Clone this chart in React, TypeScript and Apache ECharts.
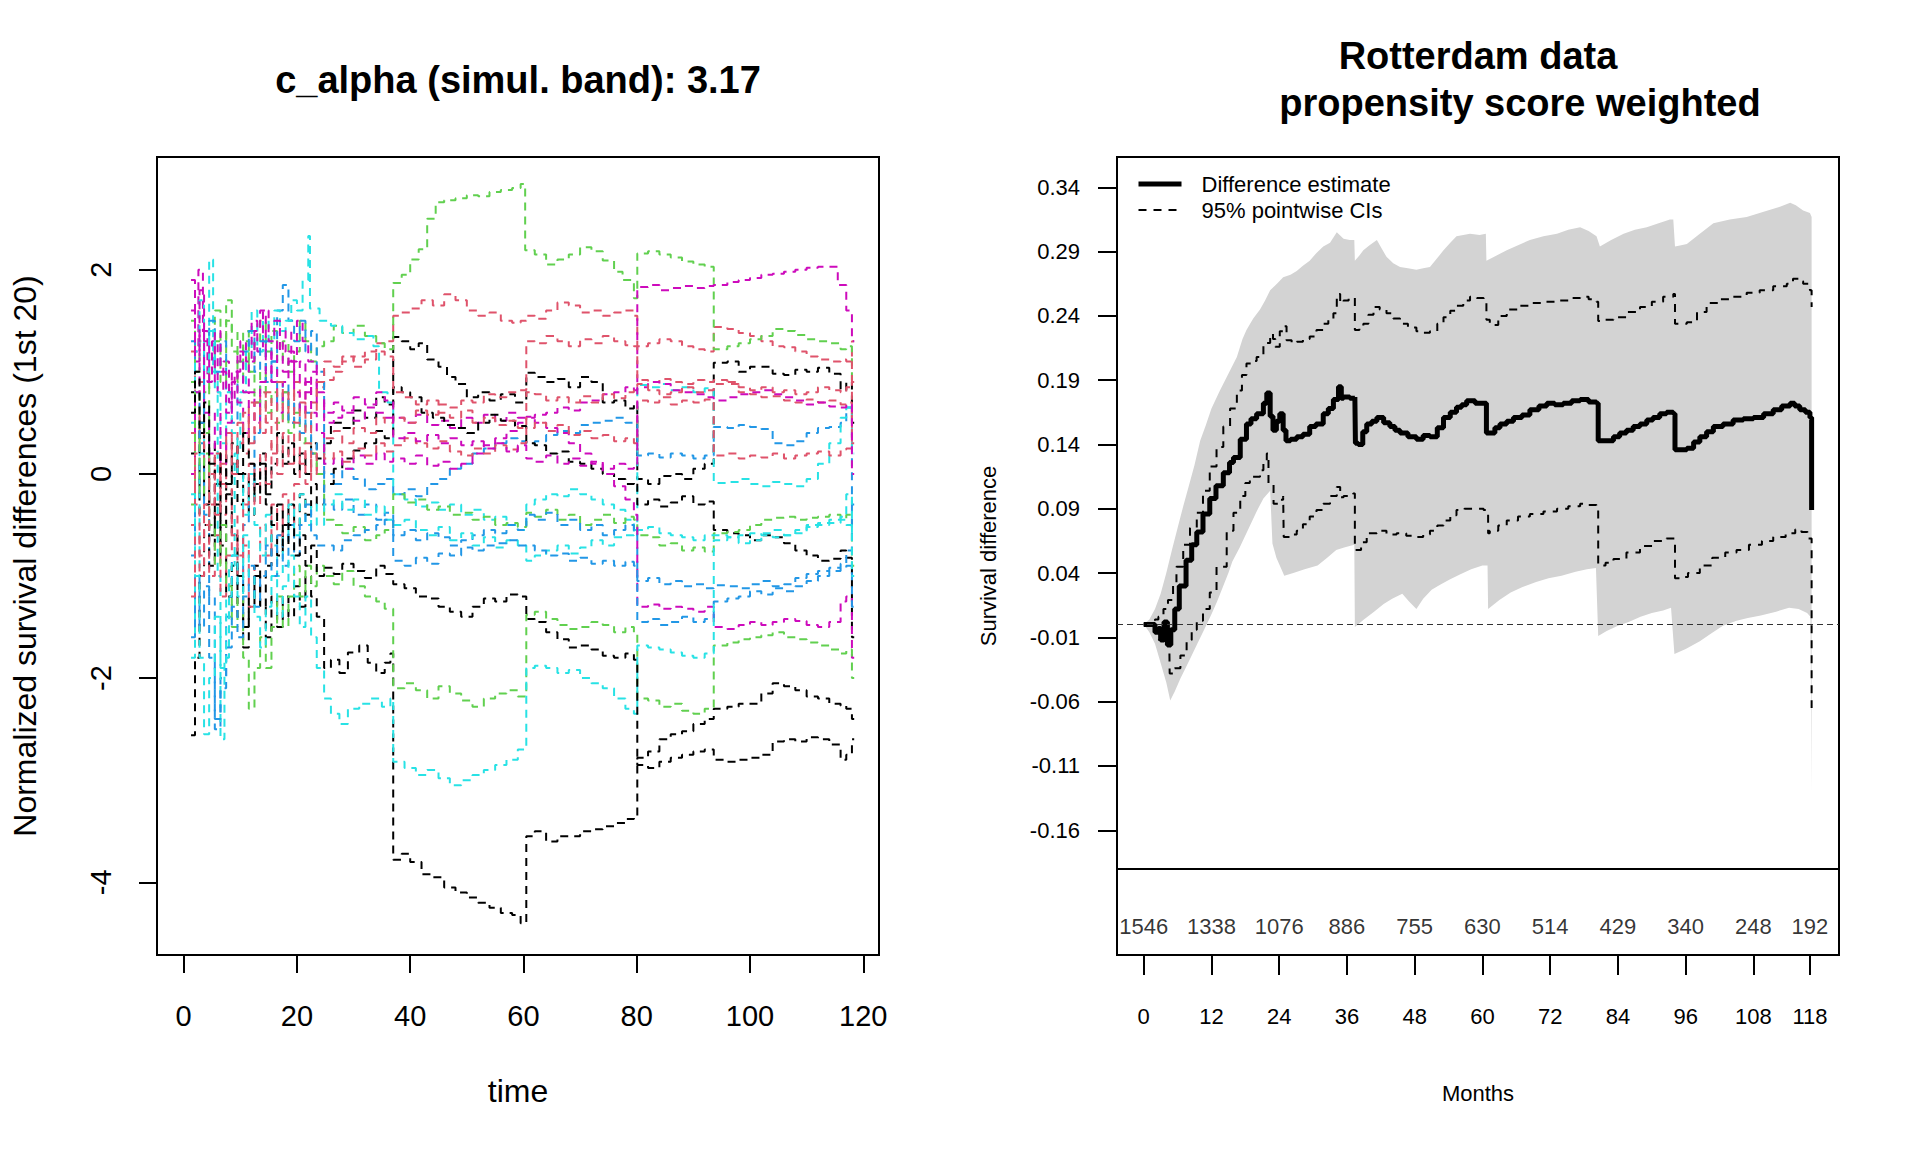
import React, { useEffect, useRef } from 'react';
import * as echarts from 'echarts';

const FONT = '"Liberation Sans", Arial, Helvetica, sans-serif';

// ---------- texts ----------
const LEFT_TITLE = 'c_alpha (simul. band): 3.17';
const RIGHT_TITLE_1 = 'Rotterdam data';
const RIGHT_TITLE_2 = 'propensity score weighted';
const LEFT_X_NAME = 'time';
const LEFT_Y_NAME = 'Normalized survival differences (1st 20)';
const RIGHT_X_NAME = 'Months';
const RIGHT_Y_NAME = 'Survival difference';
const EST_NAME = 'Difference estimate';
const CI_NAME = '95% pointwise CIs';

// ---------- ticks / categories ----------
const rPalette = ['#000000', '#DF536B', '#61D04F', '#2297E6', '#28E2E5', '#CD0BBC'];
const timeTicks = [0, 20, 40, 60, 80, 100, 120];
const normTicks = [-4, -2, 0, 2];
const monthTicks = [0, 12, 24, 36, 48, 60, 72, 84, 96, 108, 118];
const atRisk = [1546, 1338, 1076, 886, 755, 630, 514, 429, 340, 248, 192];
const diffTicks = [0.34, 0.29, 0.24, 0.19, 0.14, 0.09, 0.04, -0.01, -0.06, -0.11, -0.16];

// ---------- left panel: 20 simulated normalized processes [time, value] ----------
const sim01 = [[1.3,0.2],[2,-0.4],[2.8,0.1],[3.6,-0.3],[4.5,0.3],[5.5,-0.1],[6.5,0.2],[7.5,-0.2],[8.5,0.1],[9.5,-0.3],[10.5,0.0],[11.5,-0.4],[12.5,-0.1],[13.5,0.2],[14.5,-0.2],[15.5,0.1],[16.5,0.4],[17.5,0.1],[18.5,0.3],[19.5,0.0],[20.5,0.2],[21.5,0.0],[22.5,0.3],[23.5,0.15],
  [24.8,0.3],[26,0.5],[28,0.45],[30,0.62],[32,0.55],[34,0.75],[35.5,0.68],
  [37,1.34],[38.5,1.3],[40,1.22],[41.5,1.28],[43,1.12],[45,1.05],[46.5,0.95],[48,0.88],[50,0.75],[52,0.8],[54,0.72],[56,0.78],[58.5,0.7],
  [60.5,0.99],[62,0.95],[64,0.9],[66,0.93],[68,0.85],[70,0.95],[72,0.9],[74,0.7],[76,0.72],[78,0.64],[79.5,0.68],
  [80.1,-0.05],[82,-0.1],[84,-0.02],[86,0.0],[88,-0.05],[90,0.05],[92,0.1],
  [93.6,1.09],[96,1.1],[98,1.0],[100,1.05],[102,1.05],[104,0.98],[106,0.97],[108,1.02],[110,1.0],[112,1.04],[114,0.98],[116,0.82],[117,0.9],
  [118,0.5],[118.4,0.5]];
const sim02 = [[1.3,1.2],[2,0.6],[2.8,0.9],[3.6,0.2],[4.5,-0.3],[5.5,0.2],[6.5,-0.1],[7.5,0.4],[8.5,0.1],[9.5,0.5],[10.5,0.2],[11.5,0.7],[12.5,0.4],[13.5,0.8],[14.5,0.5],[15.5,0.2],[16.5,0.5],[17.5,0.8],[18.5,0.5],[19.5,0.9],[20.5,0.6],[21.5,0.9],[22.5,0.7],[23.5,0.85],
  [24.8,0.92],[26.5,1.0],[28,1.1],[30,1.15],[32,1.2],[34,1.28],[35.5,1.3],
  [37,1.55],[38.5,1.58],[40,1.62],[42,1.7],[44,1.65],[46,1.76],[48,1.7],[50,1.6],[52,1.55],[54,1.58],[56,1.5],[58,1.48],[59.5,1.5],
  [60.5,1.55],[62,1.52],[64,1.6],[66,1.68],[68,1.65],[70,1.58],[72,1.6],[74,1.55],[76,1.58],[78,1.6],[79.5,1.55],
  [80.1,1.25],[82,1.28],[84,1.32],[86,1.3],[88,1.25],[90,1.22],[92,1.2],
  [93.6,1.44],[96,1.42],[98,1.38],[100,1.35],[102,1.3],[104,1.25],[106,1.24],[108,1.2],[110,1.15],[112,1.12],[114,1.1],[116,1.12],[117,1.1],
  [118,1.3],[118.4,1.3]];
const sim03 = [[1.3,1.5],[2,1.0],[2.8,1.3],[3.6,0.8],[4.5,1.2],[5.5,1.6],[6.5,1.3],[7.5,1.7],[8.5,1.4],[9.5,1.1],[10.5,1.4],[11.5,1.0],[12.5,1.3],[13.5,1.5],[14.5,1.2],[15.5,1.4],[16.5,1.1],[17.5,1.3],[18.5,1.0],[19.5,1.2],[20.5,1.5],[21.5,1.3],[22.5,1.1],[23.5,1.25],
  [24.8,1.3],[26.5,1.45],[28,1.38],[30,1.45],[32,1.35],[34,1.28],[35.5,1.22],
  [37,1.87],[38.5,1.95],[40,2.1],[41.5,2.2],[43,2.5],[44.5,2.66],[46,2.68],[48,2.7],[50,2.73],[52,2.72],[54,2.76],[56,2.78],[58,2.8],[59.5,2.84],
  [60.3,2.19],[62,2.15],[64,2.05],[66,2.1],[68,2.15],[70,2.22],[72,2.18],[74,2.09],[76,1.98],[77.5,1.9],[79.5,1.72],
  [80.1,2.16],[82,2.18],[84,2.15],[86,2.12],[88,2.08],[90,2.05],[92,2.03],
  [93.6,1.22],[96,1.25],[98,1.28],[100,1.32],[102,1.35],[104,1.42],[106,1.4],[108,1.36],[110,1.32],[112,1.3],[114,1.28],[116,1.22],[117,1.25],
  [118,0.9],[118.4,0.9]];
const sim04 = [[1.3,1.3],[2,0.8],[2.8,0.3],[3.6,-0.4],[4.5,-1.2],[5.5,-2.5],[6.5,-2.0],[7.5,-1.4],[8.5,-0.8],[9.5,-1.1],[10.5,-0.5],[11.5,-0.1],[12.5,0.4],[13.5,0.9],[14.5,1.3],[15.5,1.1],[16.5,1.6],[17.5,1.85],[18.5,1.5],[19.5,1.3],[20.5,1.5],[21.5,1.2],[22.5,1.4],[23.5,1.0],
  [24.8,0.0],[26.5,-0.1],[28,0.05],[30,-0.05],[32,-0.15],[34,-0.1],[35.5,-0.05],
  [37,-0.2],[39,-0.15],[41,-0.22],[43,-0.1],[45,-0.05],[47,0.05],[49,0.1],[51,0.2],[53,0.25],[55,0.3],[57,0.35],[59,0.32],
  [60.5,0.3],[62,0.32],[64,0.38],[66,0.42],[68,0.4],[70,0.48],[72,0.5],[74,0.52],[76,0.55],[78,0.5],[79.5,0.48],
  [80.1,0.18],[82,0.2],[84,0.16],[86,0.2],[88,0.18],[90,0.15],[92,0.18],
  [93.6,0.46],[96,0.45],[98,0.48],[100,0.46],[102,0.44],[104,0.3],[106,0.28],[108,0.32],[110,0.4],[112,0.45],[114,0.46],[116,0.5],[117,0.65],
  [118,-0.3],[118.4,-0.3]];
const sim05 = [[1.3,-1.8],[2,-1.0],[2.8,0.2],[3.6,1.3],[4.5,2.1],[5.2,1.0],[6,-1.0],[6.5,-2.6],[7.2,-1.8],[8,-0.9],[9,0.2],[10,0.8],[11,1.2],[12,1.6],[13,1.2],[14,1.5],[15,1.3],[16,1.6],[17,1.4],[18,1.5],[19,1.7],[20,1.6],[21,1.9],[22,2.33],
  [22.3,1.62],[24,1.5],[26,1.45],[28,1.38],[30,1.32],[32,1.35],[33.5,1.25],[34.5,0.8],[36,0.7],
  [37,-0.2],[39,-0.25],[41,-0.32],[43,-0.28],[45,-0.35],[47,-0.3],[49,-0.4],[51,-0.35],[53,-0.45],[55,-0.42],[57,-0.5],[59,-0.55],
  [60.5,-0.3],[62,-0.25],[64,-0.2],[66,-0.22],[68,-0.15],[70,-0.2],[72,-0.25],[74,-0.3],[76,-0.35],[78,-0.45],[79.5,-0.6],
  [80.1,0.87],[82,0.85],[84,0.88],[86,0.82],[88,0.85],[90,0.8],[92,0.84],
  [93.6,-0.09],[96,-0.08],[98,-0.05],[100,-0.1],[102,-0.12],[104,-0.08],[106,-0.1],[108,-0.12],[110,-0.05],[112,0.1],[114,0.3],[116,0.55],[117,0.65],
  [118,0.2],[118.4,0.2]];
const sim06 = [[1.3,1.9],[2,1.2],[2.6,2.0],[3.4,1.4],[4.2,0.9],[5,1.3],[6,0.8],[7,1.1],[8,0.7],[9,1.0],[10,1.3],[11,1.1],[12,1.5],[13,1.2],[14,1.6],[15,1.3],[16,1.5],[17,1.2],[18,1.4],[19,1.1],[20,1.5],[21,1.3],[22,1.1],[23.5,0.8],
  [24.8,0.5],[26.5,0.55],[28,0.6],[30,0.52],[32,0.65],[34,0.6],[35.5,0.55],
  [37,0.55],[39,0.5],[41,0.58],[43,0.48],[45,0.52],[47,0.45],[49,0.55],[51,0.5],[53,0.58],[55,0.52],[57,0.6],[59,0.55],
  [60.5,0.55],[62,0.58],[64,0.6],[66,0.65],[68,0.62],[70,0.7],[72,0.72],[74,0.78],[76,0.8],[78,0.85],[79.5,0.82],
  [80.1,1.83],[82,1.85],[84,1.8],[86,1.82],[88,1.84],[90,1.82],[92,1.84],
  [93.6,1.85],[96,1.88],[98,1.9],[100,1.92],[102,1.95],[104,1.96],[106,1.98],[108,2.0],[110,2.02],[112,2.03],[114,2.03],[115.5,1.85],[117,1.6],
  [118,1.3],[118.4,1.3]];
const sim07 = [[1.3,0.8],[2,0.2],[2.8,0.5],[3.6,-0.2],[4.5,-0.6],[5.5,-0.3],[6.5,-0.8],[7.5,-1.2],[8.5,-0.9],[9.5,-1.4],[10.5,-1.7],[11.5,-1.3],[12.5,-1.0],[13.5,-1.3],[14.5,-0.9],[15.5,-0.6],[16.5,-0.8],[17.5,-0.5],[18.5,-0.3],[19.5,-0.5],[20.5,-0.2],[21.5,-0.4],[22.5,-0.1],[23.5,-0.3],
  [24.8,-0.1],[26.5,0.05],[28,0.15],[30,0.23],[32,0.3],[34,0.42],[35.5,0.35],
  [37,0.85],[38.5,0.8],[40,0.75],[42,0.6],[44,0.55],[46,0.48],[48,0.45],[50,0.4],[52,0.5],[54,0.58],[56,0.52],[58.5,0.47],
  [60.5,0.3],[62,0.28],[64,0.2],[66,0.22],[68,0.12],[70,0.1],[72,0.05],[74,0.0],[76,-0.05],[78,-0.1],[79.5,-0.08],
  [80.1,-0.3],[82,-0.25],[84,-0.32],[86,-0.28],[88,-0.22],[90,-0.3],[92,-0.27],
  [93.6,-0.55],[96,-0.58],[98,-0.6],[100,-0.65],[102,-0.6],[104,-0.62],[106,-0.68],[108,-0.75],[110,-0.8],[112,-0.85],[114,-0.83],[116,-0.75],[117,-0.82],
  [118,-1.6],[118.4,-1.6]];
const sim08 = [[1.3,-0.5],[2,0.2],[2.8,0.6],[3.6,0.1],[4.5,-0.3],[5.5,0.2],[6.5,-0.4],[7.5,-0.1],[8.5,-0.6],[9.5,-1.0],[10.5,-0.7],[11.5,-1.3],[12.5,-0.9],[13.5,-0.5],[14.5,-0.8],[15.5,-0.3],[16.5,-0.6],[17.5,-0.2],[18.5,-0.5],[19.5,-0.1],[20.5,0.2],[21.5,-0.1],[22.5,0.2],[23.5,0.0],
  [24.8,0.35],[26.5,0.42],[28,0.3],[30,0.45],[32,0.4],[34,0.55],[35.5,0.5],
  [37,0.55],[39,0.5],[41,0.62],[43,0.58],[45,0.68],[47,0.65],[49,0.72],[51,0.7],[53,0.78],[55,0.75],[57,0.8],[59,0.82],
  [60.5,1.3],[62,1.28],[64,1.35],[66,1.3],[68,1.25],[70,1.32],[72,1.28],[74,1.35],[76,1.3],[78,1.26],[79.5,1.25],
  [80.1,0.92],[82,0.9],[84,0.93],[86,0.9],[88,0.88],[90,0.92],[92,0.9],
  [93.6,0.92],[96,0.88],[98,0.8],[100,0.78],[102,0.75],[104,0.76],[106,0.72],[108,0.7],[110,0.73],[112,0.7],[114,0.72],[116,0.68],[117,0.7],
  [118,0.3],[118.4,0.3]];
const sim09 = [[1.3,-0.3],[2,0.3],[2.8,0.8],[3.6,0.4],[4.5,1.0],[5.5,1.3],[6.5,0.9],[7.5,1.5],[8.5,1.2],[9.5,0.9],[10.5,1.3],[11.5,1.0],[12.5,0.7],[13.5,1.0],[14.5,0.6],[15.5,0.8],[16.5,0.5],[17.5,0.8],[18.5,0.4],[19.5,0.6],[20.5,0.3],[21.5,0.5],[22.5,0.2],[23.5,0.0],
  [24.8,-0.45],[26.5,-0.5],[28,-0.58],[30,-0.52],[32,-0.65],[34,-0.6],[35.5,-0.55],
  [37,-0.2],[39,-0.28],[41,-0.25],[43,-0.35],[45,-0.32],[47,-0.4],[49,-0.38],[51,-0.45],[53,-0.42],[55,-0.5],[57,-0.48],[59,-0.52],
  [60.5,-0.38],[62,-0.42],[64,-0.35],[66,-0.45],[68,-0.4],[70,-0.5],[72,-0.45],[74,-0.4],[76,-0.48],[78,-0.42],[79.5,-0.45],
  [80.1,-0.6],[82,-0.62],[84,-0.7],[86,-0.68],[88,-0.75],[90,-0.72],[92,-0.76],
  [93.6,-0.58],[96,-0.57],[98,-0.55],[100,-0.5],[102,-0.45],[104,-0.43],[106,-0.42],[108,-0.45],[110,-0.43],[112,-0.42],[114,-0.4],[116,-0.44],[117,-0.4],
  [118,-0.9],[118.4,-0.9]];
const sim10 = [[1.3,-0.8],[2,-0.2],[2.8,0.5],[3.6,1.2],[4.5,1.5],[5.5,1.0],[6.5,1.3],[7.5,0.8],[8.5,0.5],[9.5,0.9],[10.5,1.2],[11.5,1.4],[12.5,1.0],[13.5,1.3],[14.5,0.9],[15.5,1.1],[16.5,0.7],[17.5,0.9],[18.5,0.5],[19.5,0.7],[20.5,0.4],[21.5,0.6],[22.5,0.2],[23.5,0.3],
  [24.8,-0.3],[26.5,-0.35],[28,-0.25],[30,-0.4],[32,-0.3],[34,-0.45],[35.5,-0.38],
  [37,-0.6],[39,-0.55],[41,-0.65],[43,-0.58],[45,-0.62],[47,-0.7],[49,-0.65],[51,-0.6],[53,-0.55],[55,-0.58],[57,-0.5],[59,-0.55],
  [60.5,-0.4],[62,-0.45],[64,-0.38],[66,-0.5],[68,-0.45],[70,-0.55],[72,-0.5],[74,-0.6],[76,-0.55],[78,-0.5],[79.5,-0.58],
  [80.1,-1.05],[82,-1.02],[84,-1.08],[86,-1.05],[88,-1.1],[90,-1.08],[92,-1.12],
  [93.6,-1.09],[96,-1.1],[98,-1.12],[100,-1.08],[102,-1.05],[104,-1.1],[106,-1.08],[108,-1.02],[110,-0.98],[112,-0.95],[114,-0.92],[116,-0.88],[117,-0.75],
  [118,-0.3],[118.4,-0.3]];
const sim11 = [[1.3,0.5],[2,1.2],[2.8,1.7],[3.6,1.0],[4.5,1.4],[5.5,0.8],[6.5,0.3],[7.5,0.8],[8.5,0.4],[9.5,0.0],[10.5,-0.4],[11.5,0.0],[12.5,-0.5],[13.5,-0.8],[14.5,-0.4],[15.5,-0.7],[16.5,-1.0],[17.5,-0.6],[18.5,-0.3],[19.5,-0.6],[20.5,-0.2],[21.5,-0.5],[22.5,-0.3],[23.5,-0.5],
  [24.8,-0.3],[26.5,-0.2],[28,-0.35],[30,-0.25],[32,-0.4],[34,-0.32],[35.5,-0.45],
  [37,-0.5],[39,-0.45],[41,-0.55],[43,-0.6],[45,-0.52],[47,-0.65],[49,-0.58],[51,-0.7],[53,-0.62],[55,-0.72],[57,-0.65],[59,-0.7],
  [60.5,-0.85],[62,-0.8],[64,-0.75],[66,-0.7],[68,-0.78],[70,-0.72],[72,-0.65],[74,-0.7],[76,-0.62],[78,-0.6],[79.5,-0.55],
  [80.1,-0.55],[82,-0.52],[84,-0.58],[86,-0.6],[88,-0.62],[90,-0.65],[92,-0.6],
  [93.6,-0.6],[96,-0.62],[98,-0.6],[100,-0.58],[102,-0.6],[104,-0.62],[106,-0.6],[108,-0.55],[110,-0.5],[112,-0.48],[114,-0.45],[116,-0.42],[117,-0.2],
  [118,-0.6],[118.4,-0.6]];
const sim12 = [[1.3,0.0],[2,0.8],[2.8,1.4],[3.6,0.6],[4.5,0.2],[5.5,0.6],[6.5,0.1],[7.5,0.5],[8.5,0.9],[9.5,1.2],[10.5,0.8],[11.5,1.1],[12.5,1.4],[13.5,1.6],[14.5,1.2],[15.5,0.9],[16.5,0.6],[17.5,0.9],[18.5,1.1],[19.5,0.8],[20.5,0.6],[21.5,0.9],[22.5,0.6],[23.5,0.4],
  [24.8,0.1],[26.5,0.15],[28,0.05],[30,0.18],[32,0.1],[34,0.2],[35.5,0.12],
  [37,0.15],[39,0.1],[41,0.18],[43,0.08],[45,0.12],[47,0.05],[49,0.1],[51,0.2],[53,0.28],[55,0.35],[57,0.42],[59,0.5],
  [60.5,0.56],[62,0.5],[64,0.45],[66,0.4],[68,0.3],[70,0.2],[72,0.1],[74,0.0],[76,-0.12],[78,-0.25],[79.5,-0.4],
  [80.1,-1.3],[82,-1.28],[84,-1.32],[86,-1.3],[88,-1.32],[90,-1.35],[92,-1.3],
  [93.6,-1.5],[96,-1.52],[98,-1.48],[100,-1.45],[102,-1.48],[104,-1.45],[106,-1.42],[108,-1.44],[110,-1.48],[112,-1.5],[114,-1.45],[116,-1.25],[117,-1.2],
  [118,-1.8],[118.4,-1.8]];
const sim13 = [[1.3,-2.56],[2,-1.8],[2.8,-1.0],[3.6,-0.5],[4.5,-0.9],[5.5,-0.3],[6.5,-0.7],[7.5,-0.2],[8.5,-0.6],[9.5,-1.0],[10.5,-1.5],[11.5,-1.2],[12.5,-0.9],[13.5,-1.3],[14.5,-1.6],[15.5,-1.2],[16.5,-1.5],[17.5,-1.2],[18.5,-1.4],[19.5,-1.1],[20.5,-1.3],[21.5,-1.0],[22.5,-1.2],[23.5,-1.4],
  [24.8,-1.9],[26,-1.82],[27.5,-1.95],[29,-1.75],[31,-1.68],[32.5,-1.85],[34,-1.95],[35.5,-1.85],[36.5,-1.76],
  [37,-3.78],[38.5,-3.72],[40,-3.8],[42,-3.92],[44,-3.95],[46,-4.05],[48,-4.1],[50,-4.15],[52,-4.2],[54,-4.25],[56,-4.3],[58,-4.32],[59.5,-4.4],
  [60.5,-3.55],[62,-3.5],[64,-3.6],[66,-3.55],[68,-3.55],[70,-3.5],[72,-3.48],[74,-3.45],[76,-3.42],[78,-3.38],[79.5,-3.35],
  [80.1,-2.78],[82,-2.72],[84,-2.6],[86,-2.55],[88,-2.52],[90,-2.45],[92,-2.4],
  [93.6,-2.3],[96,-2.28],[98,-2.25],[100,-2.25],[102,-2.15],[104,-2.05],[106,-2.08],[108,-2.12],[110,-2.18],[112,-2.2],[114,-2.25],[116,-2.27],[117,-2.3],
  [118,-2.4],[118.4,-2.4]];
const sim14 = [[1.3,0.4],[2,-0.3],[2.8,-0.8],[3.6,-0.3],[4.5,-1.0],[5.5,-0.6],[6.5,-1.2],[7.5,-0.8],[8.5,-0.4],[9.5,-0.8],[10.5,-0.3],[11.5,0.1],[12.5,-0.3],[13.5,0.2],[14.5,-0.1],[15.5,0.3],[16.5,0.0],[17.5,0.4],[18.5,0.1],[19.5,0.4],[20.5,0.1],[21.5,0.3],[22.5,0.0],[23.5,0.2],
  [24.8,0.15],[26.5,0.22],[28,0.12],[30,0.25],[32,0.18],[34,0.3],[35.5,0.22],
  [37,0.28],[39,0.35],[41,0.3],[43,0.25],[45,0.32],[47,0.22],[49,0.18],[51,0.25],[53,0.2],[55,0.28],[57,0.24],[59,0.3],
  [60.5,0.45],[62,0.5],[64,0.42],[66,0.48],[68,0.38],[70,0.42],[72,0.35],[74,0.38],[76,0.32],[78,0.35],[79.5,0.3],
  [80.1,0.72],[82,0.7],[84,0.75],[86,0.68],[88,0.72],[90,0.7],[92,0.73],
  [93.6,0.18],[96,0.2],[98,0.15],[100,0.18],[102,0.16],[104,0.2],[106,0.15],[108,0.18],[110,0.2],[112,0.22],[114,0.18],[116,0.24],[117,0.25],
  [118,0.9],[118.4,0.9]];
const sim15 = [[1.3,0.9],[2,0.3],[2.8,-0.2],[3.6,0.2],[4.5,-0.5],[5.5,-0.9],[6.5,-0.5],[7.5,-1.1],[8.5,-1.5],[9.5,-1.2],[10.5,-1.8],[11.5,-2.3],[12.5,-1.9],[13.5,-1.6],[14.5,-1.9],[15.5,-1.5],[16.5,-1.2],[17.5,-1.5],[18.5,-1.2],[19.5,-0.9],[20.5,-1.2],[21.5,-0.9],[22.5,-1.1],[23.5,-0.9],
  [24.8,-1.0],[26.5,-1.08],[28,-0.95],[30,-1.1],[32,-1.2],[34,-1.25],[35.5,-1.32],
  [37,-2.1],[39,-2.05],[41,-2.12],[43,-2.2],[45,-2.08],[47,-2.15],[49,-2.22],[51,-2.28],[53,-2.2],[55,-2.15],[57,-2.12],[59,-2.18],
  [60.5,-1.38],[62,-1.35],[64,-1.42],[66,-1.48],[68,-1.52],[70,-1.5],[72,-1.45],[74,-1.48],[76,-1.55],[78,-1.5],[79.5,-1.56],
  [80.1,-2.2],[82,-2.22],[84,-2.28],[86,-2.25],[88,-2.32],[90,-2.35],[92,-2.3],
  [93.6,-1.68],[96,-1.65],[98,-1.62],[100,-1.6],[102,-1.58],[104,-1.55],[106,-1.6],[108,-1.62],[110,-1.65],[112,-1.68],[114,-1.72],[116,-1.76],[117,-1.72],
  [118,-2.0],[118.4,-2.0]];
const sim16 = [[1.3,-1.6],[2,-1.0],[2.8,-1.5],[3.6,-1.1],[4.5,-1.8],[5.5,-2.4],[6.5,-2.1],[7.5,-1.7],[8.5,-1.3],[9.5,-1.6],[10.5,-1.2],[11.5,-0.9],[12.5,-1.3],[13.5,-1.0],[14.5,-0.7],[15.5,-1.0],[16.5,-0.6],[17.5,-0.9],[18.5,-0.5],[19.5,-0.8],[20.5,-0.5],[21.5,-0.3],[22.5,-0.6],[23.5,-0.7],
  [24.8,-0.7],[26.5,-0.75],[28,-0.65],[30,-0.6],[32,-0.55],[34,-0.5],[35.5,-0.45],
  [37,-0.85],[39,-0.9],[41,-0.82],[43,-0.88],[45,-0.78],[47,-0.8],[49,-0.72],[51,-0.75],[53,-0.7],[55,-0.68],[57,-0.65],[59,-0.7],
  [60.5,-0.7],[62,-0.75],[64,-0.8],[66,-0.78],[68,-0.85],[70,-0.82],[72,-0.88],[74,-0.85],[76,-0.9],[78,-0.86],[79.5,-0.9],
  [80.1,-1.45],[82,-1.42],[84,-1.48],[86,-1.45],[88,-1.4],[90,-1.45],[92,-1.42],
  [93.6,-1.25],[96,-1.22],[98,-1.2],[100,-1.15],[102,-1.18],[104,-1.12],[106,-1.15],[108,-1.1],[110,-1.05],[112,-1.0],[114,-0.95],[116,-0.92],[117,-0.9],
  [118,-1.3],[118.4,-1.3]];
const sim17 = [[1.3,-0.2],[2,-1.0],[2.8,-1.8],[3.6,-2.55],[4.5,-2.0],[5.5,-1.4],[6.5,-1.9],[7.5,-1.2],[8.5,-0.8],[9.5,-1.2],[10.5,-0.6],[11.5,-1.0],[12.5,-1.4],[13.5,-1.7],[14.5,-1.3],[15.5,-1.0],[16.5,-1.4],[17.5,-1.1],[18.5,-0.8],[19.5,-1.2],[20.5,-1.5],[21.5,-1.2],[22.5,-1.6],[23.5,-1.9],
  [24.8,-2.2],[26,-2.35],[27.5,-2.45],[29,-2.3],[31,-2.25],[33,-2.2],[35,-2.28],[36.5,-2.2],
  [37,-2.82],[39,-2.88],[41,-2.95],[43,-2.9],[45,-2.98],[47,-3.05],[49,-3.0],[51,-2.95],[53,-2.9],[55,-2.85],[57,-2.8],[59,-2.7],
  [60.5,-1.9],[62,-1.88],[64,-1.9],[66,-1.95],[68,-1.92],[70,-2.0],[72,-2.05],[74,-2.1],[76,-2.2],[78,-2.3],[79.5,-2.35],
  [80.1,-1.68],[82,-1.7],[84,-1.72],[86,-1.75],[88,-1.78],[90,-1.8],[92,-1.76],
  [93.6,-0.65],[96,-0.62],[98,-0.68],[100,-0.65],[102,-0.58],[104,-0.55],[106,-0.6],[108,-0.58],[110,-0.52],[112,-0.5],[114,-0.48],[116,-0.45],[117,-0.5],
  [118,-1.0],[118.4,-1.0]];
const sim18 = [[1.3,1.6],[2,1.1],[2.8,1.8],[3.6,1.3],[4.5,0.9],[5.5,1.4],[6.5,1.0],[7.5,0.6],[8.5,1.0],[9.5,0.7],[10.5,0.4],[11.5,0.8],[12.5,0.5],[13.5,0.9],[14.5,1.2],[15.5,0.9],[16.5,1.3],[17.5,1.0],[18.5,1.2],[19.5,0.9],[20.5,1.1],[21.5,0.8],[22.5,1.0],[23.5,0.7],
  [24.8,0.6],[26.5,0.7],[28,0.62],[30,0.75],[32,0.68],[34,0.8],[35.5,0.72],
  [37,0.35],[39,0.4],[41,0.32],[43,0.38],[45,0.3],[47,0.35],[49,0.28],[51,0.32],[53,0.25],[55,0.3],[57,0.22],[59,0.28],
  [60.5,0.15],[62,0.12],[64,0.18],[66,0.1],[68,0.15],[70,0.08],[72,0.12],[74,0.05],[76,0.1],[78,0.05],[79.5,0.08],
  [80.1,0.85],[82,0.9],[84,0.88],[86,0.82],[88,0.8],[90,0.78],[92,0.75],
  [93.6,0.72],[96,0.75],[98,0.78],[100,0.8],[102,0.82],[104,0.78],[106,0.75],[108,0.72],[110,0.68],[112,0.7],[114,0.66],[116,0.65],[117,0.68],
  [118,0.0],[118.4,0.0]];
const sim19 = [[1.3,0.6],[2,1.0],[2.8,0.4],[3.6,0.7],[4.5,0.1],[5.5,-0.3],[6.5,0.2],[7.5,-0.1],[8.5,0.3],[9.5,0.0],[10.5,0.4],[11.5,0.1],[12.5,-0.2],[13.5,0.1],[14.5,-0.3],[15.5,-0.5],[16.5,-0.3],[17.5,-0.7],[18.5,-0.5],[19.5,-0.8],[20.5,-0.6],[21.5,-0.9],[22.5,-0.7],[23.5,-1.0],
  [24.8,-0.92],[26.5,-0.98],[28,-0.88],[30,-0.95],[32,-1.02],[34,-0.9],[35.5,-0.98],
  [37,-1.08],[39,-1.12],[41,-1.2],[43,-1.22],[45,-1.3],[47,-1.35],[49,-1.4],[51,-1.3],[53,-1.22],[55,-1.25],[57,-1.18],[59,-1.2],
  [60.5,-1.42],[62,-1.45],[64,-1.55],[66,-1.62],[68,-1.7],[70,-1.68],[72,-1.72],[74,-1.78],[76,-1.8],[78,-1.76],[79.5,-1.82],
  [80.1,-2.85],[82,-2.88],[84,-2.82],[86,-2.78],[88,-2.75],[90,-2.72],[92,-2.7],
  [93.6,-2.8],[96,-2.82],[98,-2.8],[100,-2.78],[102,-2.75],[104,-2.62],[106,-2.6],[108,-2.62],[110,-2.58],[112,-2.6],[114,-2.65],[116,-2.8],[117,-2.75],
  [118,-2.6],[118.4,-2.6]];
const sim20 = [[1.3,-1.2],[2,-0.6],[2.8,-1.0],[3.6,-0.5],[4.5,0.0],[5.5,-0.4],[6.5,0.1],[7.5,0.4],[8.5,0.0],[9.5,0.3],[10.5,0.6],[11.5,0.3],[12.5,0.7],[13.5,0.4],[14.5,0.8],[15.5,0.5],[16.5,0.9],[17.5,0.6],[18.5,0.8],[19.5,0.5],[20.5,0.7],[21.5,0.4],[22.5,0.6],[23.5,0.9],
  [24.8,1.1],[26.5,1.05],[28,1.15],[30,1.05],[32,1.12],[34,1.2],[35.5,1.15],
  [37,0.8],[39,0.75],[41,0.68],[43,0.72],[45,0.6],[47,0.55],[49,0.62],[51,0.5],[53,0.55],[55,0.48],[57,0.52],[59,0.45],
  [60.5,0.8],[62,0.78],[64,0.72],[66,0.75],[68,0.7],[70,0.76],[72,0.7],[74,0.78],[76,0.74],[78,0.8],[79.5,0.82],
  [80.1,0.88],[82,0.82],[84,0.78],[86,0.8],[88,0.85],[90,0.8],[92,0.82],
  [93.6,0.88],[96,0.9],[98,0.85],[100,0.82],[102,0.85],[104,0.8],[106,0.82],[108,0.78],[110,0.8],[112,0.85],[114,0.82],[116,0.8],[117,0.85],
  [118,1.1],[118.4,1.1]];
const simRuns = [sim01, sim02, sim03, sim04, sim05, sim06, sim07, sim08, sim09, sim10,
  sim11, sim12, sim13, sim14, sim15, sim16, sim17, sim18, sim19, sim20];

// ---------- right panel: [month, survival difference] ----------
const estimate = [[0,0],[1.2,0],[2,-0.006],[2.6,-0.003],[3,-0.012],[3.6,0.002],[4.2,-0.016],[4.8,-0.004],[5.5,0.012],[6.3,0.03],[7.5,0.05],[8.5,0.062],[9.4,0.072],[10.5,0.086],[11.7,0.098],[12.8,0.108],[14.1,0.118],[15.2,0.126],[15.9,0.13],[17.1,0.144],[18.2,0.156],[19,0.16],[20,0.164],[21.2,0.172],[21.8,0.18],[22.4,0.162],[22.9,0.151],[23.5,0.158],[24.1,0.164],[24.7,0.151],[25.2,0.143],[26,0.144],[27.1,0.146],[28.2,0.148],[29.4,0.154],[30.5,0.156],[31.8,0.164],[32.7,0.168],[33.6,0.175],[34.5,0.185],[35,0.176],[35.4,0.177],[36.5,0.176],[37.4,0.177],[37.5,0.141],[38,0.14],[38.8,0.15],[39.5,0.156],[40.4,0.158],[41.3,0.161],[42.5,0.157],[43.6,0.154],[44.5,0.151],[45.4,0.149],[46.8,0.146],[48.3,0.144],[49.5,0.147],[50.7,0.146],[52,0.153],[53.1,0.161],[54.3,0.165],[55.4,0.169],[56.3,0.171],[57.2,0.174],[58.7,0.172],[60.2,0.172],[60.7,0.149],[61.3,0.149],[62.2,0.153],[63.1,0.156],[64.3,0.158],[65.5,0.161],[67,0.163],[68.4,0.167],[70,0.17],[71.4,0.172],[72.8,0.171],[74.3,0.172],[75.8,0.174],[77.3,0.175],[78.8,0.173],[80.2,0.172],[80.5,0.143],[82,0.143],[83.2,0.146],[84.3,0.149],[85.5,0.151],[86.7,0.154],[87.9,0.156],[89.1,0.159],[90.2,0.161],[91.4,0.164],[92.6,0.165],[93.8,0.164],[94.1,0.136],[95,0.136],[96.2,0.137],[97.4,0.142],[98.5,0.146],[99.7,0.15],[100.9,0.154],[102.6,0.156],[104.4,0.159],[106.2,0.16],[108,0.161],[109.8,0.164],[111.5,0.167],[113,0.17],[114.5,0.172],[115.3,0.17],[116.2,0.167],[117.2,0.165],[118,0.161],[118.3,0.089]];
const ciUpper = [[0,0],[1.2,0],[2,0.004],[2.6,0.006],[3.5,0.012],[4.3,0.019],[5.2,0.032],[5.8,0.045],[7,0.062],[8.2,0.075],[9.4,0.087],[10.5,0.104],[11.7,0.123],[12.9,0.138],[14.1,0.154],[15.3,0.168],[16.5,0.182],[17.4,0.194],[18.2,0.203],[19,0.205],[20,0.208],[21.2,0.219],[22.4,0.226],[22.9,0.222],[23.3,0.216],[24.1,0.228],[24.7,0.232],[25.3,0.221],[26.2,0.219],[27.1,0.22],[28.2,0.222],[29.4,0.224],[30.6,0.229],[31.8,0.234],[32.7,0.238],[33.6,0.242],[34.2,0.257],[34.8,0.25],[35.4,0.252],[36.3,0.254],[37.1,0.254],[37.4,0.229],[38.2,0.231],[38.9,0.234],[39.8,0.241],[40.7,0.247],[41.8,0.245],[43,0.242],[44.2,0.238],[45.4,0.234],[46.8,0.231],[48.3,0.228],[49.5,0.227],[50.7,0.228],[52,0.234],[53.1,0.239],[54.3,0.244],[55.4,0.248],[56.6,0.252],[57.8,0.255],[59,0.254],[60.2,0.252],[60.7,0.237],[61.3,0.233],[62.8,0.24],[64.3,0.245],[66.3,0.248],[68.4,0.25],[70.8,0.251],[73.2,0.252],[75.2,0.254],[77.3,0.255],[78.8,0.253],[80.2,0.251],[80.5,0.236],[81.8,0.237],[83.2,0.239],[85.5,0.243],[87.9,0.247],[90,0.251],[92,0.255],[93.8,0.257],[94.1,0.234],[95.2,0.234],[96.2,0.235],[98,0.243],[99.7,0.25],[102,0.253],[104.4,0.255],[106.8,0.258],[109.1,0.26],[111.5,0.263],[113.9,0.265],[115,0.269],[116,0.267],[116.8,0.265],[118,0.26],[118.3,0.247]];
const ciLower = [[0,0],[1.2,0],[2,-0.006],[2.7,-0.012],[3.5,-0.01],[4.5,-0.004],[4.6,-0.038],[5.5,-0.034],[6.5,-0.024],[7.6,-0.012],[8.5,-0.004],[9.4,0.003],[10.5,0.012],[11.7,0.025],[12.9,0.045],[14.7,0.073],[15.9,0.087],[17.1,0.1],[18,0.11],[18.8,0.115],[20.6,0.12],[21.2,0.126],[21.8,0.133],[22.1,0.11],[23,0.094],[23.8,0.097],[24.7,0.1],[24.8,0.068],[26,0.07],[27.1,0.073],[28.2,0.078],[29.4,0.084],[30.6,0.089],[31.8,0.094],[33,0.1],[34.2,0.107],[34.8,0.099],[35.4,0.1],[37.1,0.102],[37.4,0.058],[38.5,0.064],[39.5,0.071],[41.3,0.073],[43,0.07],[44.8,0.071],[46.5,0.069],[48.3,0.068],[49.5,0.07],[50.7,0.073],[52,0.077],[53.1,0.081],[54.3,0.085],[55.4,0.089],[56.8,0.09],[58.4,0.09],[60.2,0.089],[61,0.071],[61.3,0.073],[62.8,0.077],[64.3,0.081],[66.3,0.084],[68.4,0.086],[70.8,0.088],[73.2,0.09],[75.2,0.092],[77.3,0.094],[78.8,0.093],[80.2,0.092],[80.5,0.046],[81.8,0.048],[83.2,0.051],[85.5,0.056],[87.9,0.061],[90.2,0.065],[92.6,0.067],[93.8,0.067],[94.1,0.036],[95.2,0.037],[96.4,0.04],[98.5,0.046],[100.7,0.052],[103,0.056],[105,0.058],[107.2,0.062],[109.5,0.065],[111.5,0.068],[113.7,0.071],[115.4,0.074],[116.5,0.072],[117.6,0.067],[118.3,-0.065]];
const bandUpper = [[0.2,0.001],[1,0.004],[2,0.012],[3,0.024],[4,0.04],[5,0.058],[6,0.075],[7,0.092],[8,0.108],[9,0.124],[10,0.143],[11,0.155],[12,0.168],[13.5,0.182],[15,0.195],[16.5,0.208],[17.5,0.222],[18.2,0.229],[19.4,0.238],[20.6,0.245],[21.5,0.252],[22.4,0.26],[23.6,0.265],[24.7,0.27],[26,0.272],[27.1,0.275],[28.2,0.279],[29.4,0.283],[30.6,0.289],[31.8,0.294],[33,0.297],[34.2,0.305],[35.4,0.3],[36.5,0.299],[37.3,0.299],[37.4,0.283],[38.2,0.287],[38.9,0.291],[40,0.295],[41.3,0.299],[42.2,0.292],[43,0.286],[44.2,0.281],[45.4,0.278],[46.8,0.277],[48.3,0.276],[49.5,0.277],[50.7,0.278],[52,0.285],[53.1,0.291],[54.3,0.297],[55.4,0.302],[56.6,0.303],[57.8,0.304],[59.5,0.303],[60.6,0.304],[60.7,0.283],[62.5,0.287],[64.3,0.291],[66.3,0.295],[68.4,0.299],[70.8,0.302],[73.2,0.304],[75.2,0.307],[77.3,0.309],[78.8,0.306],[80.2,0.302],[80.8,0.294],[82.8,0.299],[85,0.304],[87,0.307],[89.1,0.309],[91.2,0.312],[93.2,0.315],[93.8,0.315],[94.1,0.294],[95.2,0.295],[96.2,0.296],[98.5,0.304],[100.9,0.312],[103.8,0.315],[106.8,0.317],[109.8,0.321],[112.7,0.325],[114.5,0.328],[115.5,0.326],[116.8,0.322],[118,0.32],[118.3,0.317]];
const bandLower = [[0.2,-0.001],[1,-0.006],[2,-0.015],[3,-0.03],[4,-0.045],[4.7,-0.059],[5.5,-0.052],[6.5,-0.042],[7.4,-0.034],[8.5,-0.024],[9.6,-0.014],[10.7,-0.004],[12,0.008],[13,0.018],[14,0.029],[15,0.04],[15.7,0.049],[17,0.06],[18.5,0.074],[20,0.088],[21.2,0.098],[22.4,0.104],[22.8,0.063],[23.5,0.052],[24.9,0.038],[26.5,0.04],[28.5,0.043],[30.8,0.046],[32.5,0.052],[34.1,0.058],[35.5,0.06],[37.3,0.062],[37.4,-0.002],[39,0.004],[40.8,0.01],[42.5,0.016],[44,0.02],[45.8,0.024],[47,0.018],[48.3,0.012],[49.5,0.02],[51,0.027],[52.5,0.031],[54.2,0.035],[56,0.039],[58,0.043],[60,0.046],[60.9,0.046],[61,0.012],[63,0.019],[65,0.025],[67,0.029],[69.5,0.033],[71.7,0.036],[74,0.038],[76.5,0.041],[78.5,0.043],[80.1,0.044],[80.5,-0.009],[82,-0.005],[84,-0.001],[85.9,0.002],[88,0.006],[90,0.009],[92,0.011],[93.4,0.013],[94,-0.023],[96,-0.019],[98.5,-0.013],[100.5,-0.007],[102.6,-0.001],[105,0.003],[107,0.005],[109.3,0.007],[112,0.01],[114.3,0.013],[116,0.012],[117.5,0.009],[118.1,0.006],[118.3,-0.13]];

// layout constants (axis positions for the at-risk table, not data)
const AT_RISK_Y = -0.235;
const TABLE_LINE_Y = -0.194;

export default function App() {
  const ref = useRef<HTMLDivElement>(null);

  useEffect(() => {
    if (!ref.current) return;
    const chart = echarts.init(ref.current, undefined, { renderer: 'svg' });

    const txt = (size: number) => ({ fontSize: size, color: '#000', fontFamily: FONT });
    const noLine = { show: false, onZero: false };

    const leftSeries = simRuns.map((run, i) => ({
      type: 'line',
      name: 'sim ' + (i + 1),
      xAxisIndex: 0,
      yAxisIndex: 0,
      data: run,
      step: 'end',
      symbol: 'none',
      silent: true,
      lineStyle: { color: rPalette[i % rPalette.length], width: 2, type: [8, 6] },
      z: 2,
    }));

    const bandPolygon = bandUpper.concat(bandLower.slice().reverse());
    const hiddenItem = { color: 'rgba(0,0,0,0)', borderWidth: 0, borderColor: 'rgba(0,0,0,0)' };

    const option: any = {
      animation: false,
      backgroundColor: '#ffffff',
      grid: [
        { left: 157, top: 157, width: 722, height: 798, show: true, borderColor: '#000', borderWidth: 2, backgroundColor: 'transparent' },
        { left: 1117, top: 157, width: 722, height: 798, show: true, borderColor: '#000', borderWidth: 2, backgroundColor: 'transparent' },
      ],
      xAxis: [
        {
          type: 'value', gridIndex: 0, min: -4.71, max: 122.78,
          axisLine: noLine, splitLine: { show: false },
          axisTick: { show: true, inside: false, length: 18, customValues: timeTicks, lineStyle: { color: '#000', width: 2 } },
          axisLabel: { customValues: timeTicks, margin: 46, ...txt(29) },
          name: LEFT_X_NAME, nameLocation: 'middle', nameGap: 120, nameTextStyle: txt(32),
        },
        {
          type: 'value', gridIndex: 1, min: -4.73, max: 123.15,
          axisLine: noLine, splitLine: { show: false },
          axisTick: { show: true, inside: false, length: 20, customValues: monthTicks, lineStyle: { color: '#000', width: 2 } },
          axisLabel: { customValues: monthTicks, margin: 50, ...txt(22) },
          name: RIGHT_X_NAME, nameLocation: 'middle', nameGap: 127, nameTextStyle: txt(22),
        },
      ],
      yAxis: [
        {
          type: 'value', gridIndex: 0, min: -4.712, max: 3.104,
          axisLine: noLine, splitLine: { show: false },
          axisTick: { show: true, inside: false, length: 18, customValues: normTicks, lineStyle: { color: '#000', width: 2 } },
          axisLabel: { customValues: normTicks, rotate: 90, margin: 42, ...txt(29) },
          name: LEFT_Y_NAME, nameLocation: 'middle', nameGap: 116, nameTextStyle: txt(32),
        },
        {
          type: 'value', gridIndex: 1, min: -0.257, max: 0.3636,
          axisLine: noLine, splitLine: { show: false },
          axisTick: { show: true, inside: false, length: 19, customValues: diffTicks, lineStyle: { color: '#000', width: 2 } },
          axisLabel: { customValues: diffTicks, margin: 37, formatter: (v: number) => v.toFixed(2), ...txt(22) },
          name: RIGHT_Y_NAME, nameLocation: 'middle', nameGap: 118, nameTextStyle: txt(22),
        },
      ],
      legend: {
        show: true,
        orient: 'vertical',
        left: 1136,
        top: 173,
        padding: 0,
        itemWidth: 43,
        itemHeight: 14,
        itemGap: 4,
        textStyle: { ...txt(22), padding: [0, 0, 0, 15] },
        data: [
          { name: EST_NAME, itemStyle: hiddenItem, lineStyle: { width: 5, type: 'solid', color: '#000' } },
          { name: CI_NAME, itemStyle: hiddenItem, lineStyle: { width: 2, type: [8, 7], color: '#000' } },
        ],
      },
      graphic: [
        { type: 'text', x: 518, y: 80, style: { text: LEFT_TITLE, fontSize: 38, fontWeight: 'bold', fontFamily: FONT, fill: '#000', textAlign: 'center', textVerticalAlign: 'middle' } },
        { type: 'text', x: 1478, y: 56, style: { text: RIGHT_TITLE_1, fontSize: 38, fontWeight: 'bold', fontFamily: FONT, fill: '#000', textAlign: 'center', textVerticalAlign: 'middle' } },
        { type: 'text', x: 1520, y: 103, style: { text: RIGHT_TITLE_2, fontSize: 38, fontWeight: 'bold', fontFamily: FONT, fill: '#000', textAlign: 'center', textVerticalAlign: 'middle' } },
      ],
      series: [
        ...leftSeries,
        {
          type: 'custom',
          name: 'band',
          xAxisIndex: 1,
          yAxisIndex: 1,
          silent: true,
          data: [[0, 0]],
          z: 1,
          renderItem: (_params: any, api: any) => ({
            type: 'polygon',
            shape: { points: bandPolygon.map((p) => api.coord(p)) },
            style: { fill: '#D3D3D3', stroke: 'none' },
          }),
        },
        {
          type: 'line', name: CI_NAME, xAxisIndex: 1, yAxisIndex: 1, data: ciUpper, step: 'end',
          symbol: 'none', silent: true, z: 3, itemStyle: hiddenItem,
          lineStyle: { color: '#000', width: 2, type: [8, 7] },
        },
        {
          type: 'line', name: 'lower CI', xAxisIndex: 1, yAxisIndex: 1, data: ciLower, step: 'end',
          symbol: 'none', silent: true, z: 3, itemStyle: hiddenItem,
          lineStyle: { color: '#000', width: 2, type: [8, 7] },
        },
        {
          type: 'line', name: EST_NAME, xAxisIndex: 1, yAxisIndex: 1, data: estimate, step: 'end',
          symbol: 'none', silent: true, z: 4, itemStyle: hiddenItem,
          lineStyle: { color: '#000', width: 5 },
          markLine: {
            silent: true, symbol: 'none', label: { show: false },
            data: [
              { yAxis: 0, lineStyle: { color: '#333', width: 1.2, type: [6, 4] } },
              { yAxis: TABLE_LINE_Y, lineStyle: { color: '#000', width: 2, type: 'solid' } },
            ],
          },
        },
        {
          type: 'scatter', name: 'at risk', xAxisIndex: 1, yAxisIndex: 1, silent: true, z: 5,
          symbolSize: 1, itemStyle: hiddenItem,
          data: monthTicks.map((m, i) => [m, AT_RISK_Y, atRisk[i]]),
          label: { show: true, position: 'inside', formatter: (p: any) => String(p.value[2]), textBorderWidth: 0, ...txt(22) },
        },
      ],
    };

    chart.setOption(option);
    return () => chart.dispose();
  }, []);

  return <div ref={ref} style={{ position: 'fixed', left: 0, top: 0, width: 1920, height: 1152, background: '#fff' }} />;
}
